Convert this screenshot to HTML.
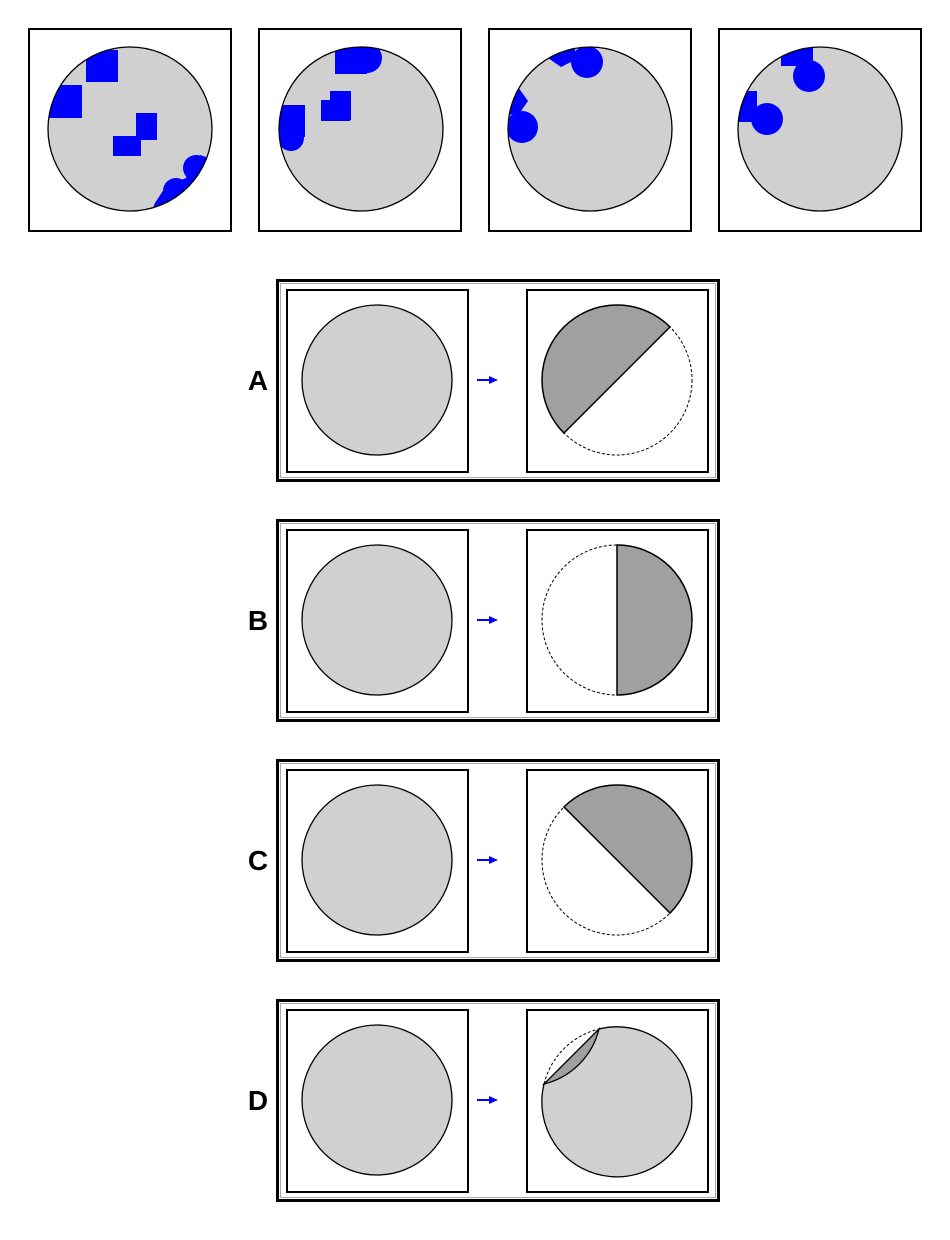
<!DOCTYPE html>
<html><head><meta charset="utf-8"><style>
html,body{margin:0;padding:0;background:#fff;}
svg{display:block;}
text{font-family:"Liberation Sans",Arial,sans-serif;font-weight:bold;}
</style></head><body>
<svg id="s" width="950" height="1240" viewBox="0 0 950 1240" xmlns="http://www.w3.org/2000/svg">
<defs>
<clipPath id="c1"><circle cx="130" cy="129" r="82"/></clipPath>
<clipPath id="c2"><circle cx="361" cy="129" r="82"/></clipPath>
<clipPath id="c3"><circle cx="590" cy="129" r="82"/></clipPath>
<clipPath id="c4"><circle cx="820" cy="129" r="82"/></clipPath>
</defs>
<g>
<rect x="29" y="29" width="202" height="202" fill="#fff" stroke="#000" stroke-width="2"/>
<circle cx="130" cy="129" r="82" fill="#d0d0d0"/>
<g clip-path="url(#c1)" fill="#0000ff">
<rect x="86" y="50" width="32" height="32"/>
<rect x="47" y="85" width="35" height="33"/>
<rect x="136" y="113" width="21" height="27"/>
<rect x="113" y="136" width="28" height="20"/>
<circle cx="196" cy="168" r="13"/>
<circle cx="176" cy="191" r="13"/>
<polygon points="155,203 166,186 186,178 190,162 200,155 215,160 215,215 150,215"/>
</g>
<circle cx="130" cy="129" r="82" fill="none" stroke="#000" stroke-width="1.3"/>
</g>
<g>
<rect x="259" y="29" width="202" height="202" fill="#fff" stroke="#000" stroke-width="2"/>
<circle cx="361" cy="129" r="82" fill="#d0d0d0"/>
<g clip-path="url(#c2)" fill="#0000ff">
<rect x="335" y="40" width="32" height="34"/>
<circle cx="367" cy="58" r="15"/>
<rect x="321" y="100" width="29" height="21"/>
<rect x="330" y="91" width="21" height="29"/>
<rect x="272" y="105" width="33" height="32"/>
<circle cx="291" cy="138" r="13"/>
</g>
<circle cx="361" cy="129" r="82" fill="none" stroke="#000" stroke-width="1.3"/>
</g>
<g>
<rect x="489" y="29" width="202" height="202" fill="#fff" stroke="#000" stroke-width="2"/>
<circle cx="590" cy="129" r="82" fill="#d0d0d0"/>
<g clip-path="url(#c3)" fill="#0000ff">
<circle cx="587" cy="62" r="16"/>
<circle cx="522" cy="127" r="16"/>
<polygon points="548,58 575,42 575,60 561,67"/>
<polygon points="518,87 528,101 521,111 502,118 505,85"/>
</g>
<circle cx="590" cy="129" r="82" fill="none" stroke="#000" stroke-width="1.3"/>
</g>
<g>
<rect x="719" y="29" width="202" height="202" fill="#fff" stroke="#000" stroke-width="2"/>
<circle cx="820" cy="129" r="82" fill="#d0d0d0"/>
<g clip-path="url(#c4)" fill="#0000ff">
<rect x="781" y="40" width="32" height="26"/>
<circle cx="809" cy="76" r="16"/>
<rect x="733" y="91" width="24" height="31"/>
<circle cx="767" cy="119" r="16"/>
</g>
<circle cx="820" cy="129" r="82" fill="none" stroke="#000" stroke-width="1.3"/>
</g>
<g id="opts"></g>
</svg>
<script>
const rows = ['A','B','C','D'];
const rowTops = [279, 519, 759, 999];
const NS = 'http://www.w3.org/2000/svg';
const g = document.getElementById('opts');
function el(tag, attrs, parent){const e=document.createElementNS(NS,tag);for(const k in attrs)e.setAttribute(k,attrs[k]);parent.appendChild(e);return e;}
rows.forEach((L,i)=>{
  const t = rowTops[i];
  const grp = el('g',{},g);
  
  
  el('rect',{x:277.5,y:t+1.5,width:441,height:200,fill:'#fff',stroke:'#000','stroke-width':3},grp);
  el('rect',{x:280.5,y:t+4.5,width:435,height:194,fill:'none',stroke:'#aaa','stroke-width':1},grp);
  const lab = el('text',{x:258,y:t+111,'font-size':28,'text-anchor':'middle'},grp);
  lab.textContent = L;
  
  
  el('rect',{x:287,y:t+11,width:181,height:182,fill:'#fff',stroke:'#000','stroke-width':2},grp);
  el('rect',{x:527,y:t+11,width:181,height:182,fill:'#fff',stroke:'#000','stroke-width':2},grp);
  const cy = t+101;
  el('circle',{cx:377,cy:cy,r:75,fill:'#d0d0d0',stroke:'#000','stroke-width':1.3},grp);
  const arr = el('g',{},grp);
  
  
  el('line',{x1:477,y1:cy,x2:491,y2:cy,stroke:'#0000ff','stroke-width':2},arr);
  el('polygon',{points:`489,${cy-4} 498,${cy} 489,${cy+4}`,fill:'#0000ff'},arr);
  const cx=617, r=75;
  const res = el('g',{},grp);
  
  
  let a1,a2;
  if(L==='A'){a1=-45;a2=135;}
  if(L==='B'){a1=-90;a2=90;}
  if(L==='C'){a1=-135;a2=45;}
  const P=a=>[cx+r*Math.cos(a*Math.PI/180), cy+r*Math.sin(a*Math.PI/180)];
  if(L!=='D'){
    const p1=P(a1),p2=P(a2);
    el('circle',{cx:cx,cy:cy,r:r,fill:'#fff',stroke:'#000','stroke-width':1,'stroke-dasharray':'3,2'},res);
    let sweep = (L==='A')?0:1;
    el('path',{d:`M${p1[0]},${p1[1]} A${r},${r} 0 0 ${sweep} ${p2[0]},${p2[1]} Z`,fill:'#a0a0a0',stroke:'#000','stroke-width':1.5},res);
  } else {
    const p1=[544,cy-16], p2=[599,cy-71];
    el('path',{d:`M${p1[0]},${p1[1]} A${r},${r} 0 1 0 ${p2[0]},${p2[1]} Z`,fill:'#d0d0d0',stroke:'none'},res);
    el('path',{d:`M${p1[0]},${p1[1]} A${r},${r} 0 1 0 ${p2[0]},${p2[1]}`,fill:'none',stroke:'#000','stroke-width':1.3},res);
    el('path',{d:`M${p1[0]},${p1[1]} A${r},${r} 0 0 1 ${p2[0]},${p2[1]}`,fill:'none',stroke:'#000','stroke-width':1,'stroke-dasharray':'3,2'},res);
    el('path',{d:`M${p1[0]},${p1[1]} L${p2[0]},${p2[1]} A${r},${r} 0 0 1 ${p1[0]},${p1[1]} Z`,fill:'#a0a0a0',stroke:'#000','stroke-width':1.3},res);
  }
});
</script>
</body></html>
